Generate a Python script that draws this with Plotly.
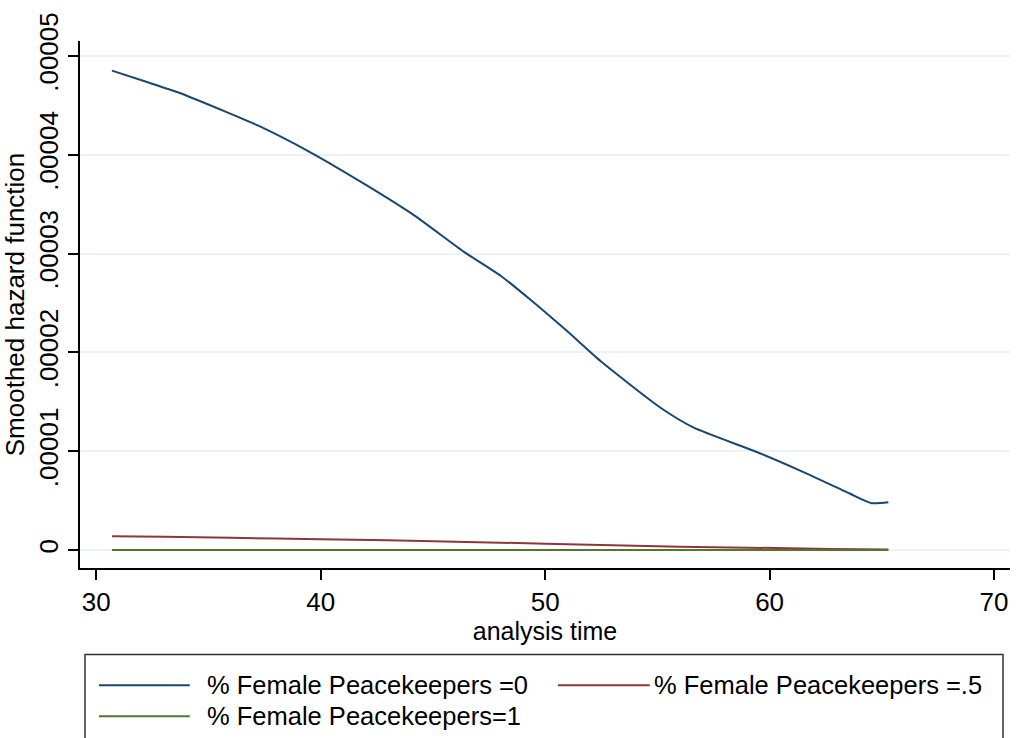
import plotly.graph_objects as go

# --- data ---
t_blue = [30.70, 32.33, 33.66, 35.73, 37.22, 39.44, 41.96, 44.18, 46.40, 48.03,
          49.36, 51.00, 52.48, 55.14, 56.62, 59.29, 61.36, 63.59, 64.55, 65.29]
h_blue = [4.851, 4.731, 4.630, 4.439, 4.294, 4.037, 3.702, 3.384, 3.015, 2.774,
          2.530, 2.211, 1.910, 1.440, 1.239, 1.005, 0.804, 0.570, 0.475, 0.485]

t_red = [30.70, 33.0, 36.0, 40.0, 43.0, 46.0, 50.0, 53.0, 56.0, 59.0, 62.7, 65.29]
h_red = [0.140, 0.135, 0.125, 0.110, 0.100, 0.085, 0.065, 0.050, 0.035, 0.025, 0.012, 0.006]

t_green = [30.70, 40.0, 50.0, 60.0, 65.29]
h_green = [0.001, 0.001, 0.001, 0.001, 0.001]

scale = 1e-5
series_names = ["% Female Peacekeepers =0", "% Female Peacekeepers =.5",
                "% Female Peacekeepers=1"]
colors = ["#1a476f", "#90353b", "#55752f"]

x_ticks = [30, 40, 50, 60, 70]
y_tickvals = [0, 1e-5, 2e-5, 3e-5, 4e-5, 5e-5]
y_ticktext = ["0", ".00001", ".00002", ".00003", ".00004", ".00005"]

fig = go.Figure()
for t, h, name, c in zip([t_blue, t_red, t_green], [h_blue, h_red, h_green],
                         series_names, colors):
    fig.add_trace(go.Scatter(x=t, y=[v * scale for v in h], mode="lines",
                             name=name, showlegend=False,
                             line=dict(color=c, width=2, shape="spline", smoothing=0.6)))

font_family = "Liberation Sans, Arial, sans-serif"

L, R, T, B = 78, 20, 38, 170
W, H = 1030, 738
pw, ph = W - L - R, H - T - B


def px(x):
    return (x - L) / pw


def py(y):
    return (H - B - y) / ph


fig.update_layout(
    width=W, height=H,
    margin=dict(l=L, r=R, t=T, b=B),
    paper_bgcolor="white", plot_bgcolor="white",
    font=dict(family=font_family, color="black", size=25),
    showlegend=False,
    xaxis=dict(range=[29.276, 70.71], tickvals=x_ticks, showgrid=False,
               showline=True, linecolor="black", linewidth=1.5,
               ticks="outside", ticklen=10, tickwidth=1.5, tickcolor="black",
               tickfont=dict(size=26), zeroline=False,
               title=dict(text="analysis time", font=dict(size=25), standoff=0)),
    yaxis=dict(range=[-0.181e-5, 5.151e-5], tickvals=y_tickvals, ticktext=y_ticktext,
               showgrid=True, gridcolor="#eaf2f3", gridwidth=1.5,
               showline=True, linecolor="black", linewidth=1.5,
               ticks="outside", ticklen=10, tickwidth=1.5, tickcolor="black",
               tickangle=-90, tickfont=dict(size=26), zeroline=False,
               title=dict(text="Smoothed hazard function", font=dict(size=26), standoff=4)),
)

# legend frame (bottom edge runs past the image, as in the reference)
fig.add_shape(type="rect", xref="paper", yref="paper",
              x0=px(83), x1=px(1003), y0=py(745), y1=py(655),
              line=dict(color="#333333", width=1.5), fillcolor="rgba(0,0,0,0)")

# legend entries: (line start, line end, text x, row y)
legend_pos = [(97, 188, 203, 686), (557, 649, 651, 686), (97, 188, 203, 717)]
for (x0, x1, xt, yr), name, c in zip(legend_pos, series_names, colors):
    fig.add_shape(type="line", xref="paper", yref="paper",
                  x0=px(x0), x1=px(x1), y0=py(yr), y1=py(yr),
                  line=dict(color=c, width=2))
    fig.add_annotation(xref="paper", yref="paper", x=px(xt), y=py(yr),
                       text=name, showarrow=False, xanchor="left", yanchor="middle",
                       font=dict(size=25.5, family=font_family, color="black"))

fig.write_html("out.html", config={"displayModeBar": False},
               post_script="document.body.style.margin='0';document.body.style.overflow='hidden';")
